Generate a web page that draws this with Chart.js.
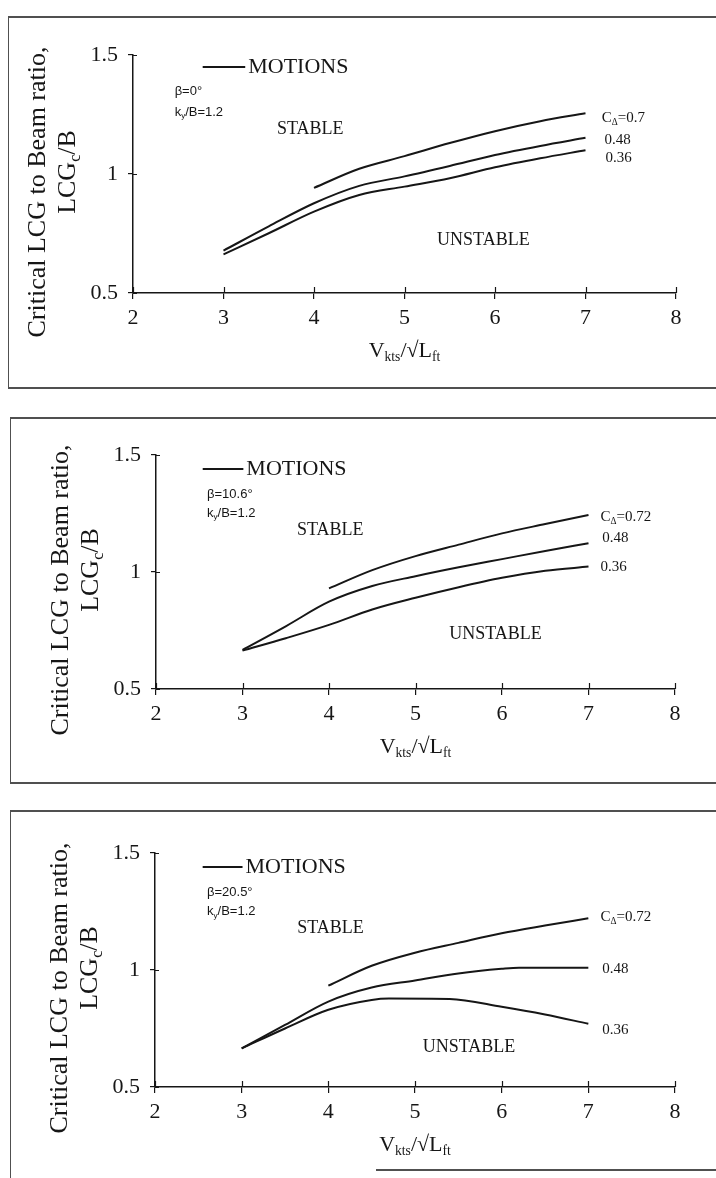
<!DOCTYPE html>
<html>
<head>
<meta charset="utf-8">
<title>Critical LCG to Beam ratio vs speed coefficient</title>
<script src="https://cdn.jsdelivr.net/npm/chart.js@4.4.1/dist/chart.umd.min.js"></script>
<style>
  html, body { margin: 0; padding: 0; background: #fff; }
  #page { position: relative; width: 716px; height: 1178px; overflow: hidden; background: #fff; }
  #page canvas { position: absolute; left: 0; }
  .rule { position: absolute; background: #505050; }
</style>
</head>
<body>
<div id="page">
  <canvas id="panel1"></canvas>
  <canvas id="panel2"></canvas>
  <canvas id="panel3"></canvas>

  <!-- frame around the first graph -->
  <div class="rule" style="left:8px;top:16px;width:708px;height:1.6px"></div>
  <div class="rule" style="left:8px;top:16px;width:1.4px;height:373px"></div>
  <div class="rule" style="left:8px;top:387px;width:708px;height:1.6px"></div>
  <!-- frame around the second graph -->
  <div class="rule" style="left:10px;top:417px;width:706px;height:1.6px"></div>
  <div class="rule" style="left:10px;top:417px;width:1.4px;height:367px"></div>
  <div class="rule" style="left:10px;top:782px;width:706px;height:1.6px"></div>
  <!-- frame around the third graph -->
  <div class="rule" style="left:10px;top:810px;width:706px;height:1.6px"></div>
  <div class="rule" style="left:10px;top:810px;width:1.4px;height:368px"></div>
  <div class="rule" style="left:376px;top:1169px;width:340px;height:1.6px"></div>
</div>

<script>
// ---------------------------------------------------------------
// Axis ticks
// ---------------------------------------------------------------
const X_TICKS = [2, 3, 4, 5, 6, 7, 8];        // V_kts / sqrt(L_ft)
const Y_TICKS = [0.5, 1, 1.5];                // LCG_c / B

// ---------------------------------------------------------------
// Deadrise 0 deg  (k_y/B = 1.2)
// ---------------------------------------------------------------
const b0Label = "β=0°";
const b0Loads = ["0.7", "0.48", "0.36"];
const b0Speed070 = [4, 4.5, 5, 5.5, 6, 6.5, 7];
const b0Lcg070   = [0.942, 1.022, 1.075, 1.13, 1.18, 1.222, 1.255];
const b0Speed048 = [3, 3.5, 4, 4.5, 5, 5.5, 6, 6.5, 7];
const b0Lcg048   = [0.678, 0.78, 0.877, 0.95, 0.99, 1.034, 1.08, 1.118, 1.152];
const b0Speed036 = [3, 3.5, 4, 4.5, 5, 5.5, 6, 6.5, 7];
const b0Lcg036   = [0.662, 0.751, 0.842, 0.912, 0.947, 0.982, 1.028, 1.066, 1.10];

// ---------------------------------------------------------------
// Deadrise 10.6 deg
// ---------------------------------------------------------------
const b10Label = "β=10.6°";
const b10Loads = ["0.72", "0.48", "0.36"];
const b10Speed072 = [4, 4.5, 5, 5.5, 6, 6.5, 7];
const b10Lcg072   = [0.930, 1.008, 1.068, 1.117, 1.165, 1.205, 1.244];
const b10Speed048 = [3, 3.5, 4, 4.5, 5, 5.5, 6, 6.5, 7];
const b10Lcg048   = [0.667, 0.768, 0.873, 0.94, 0.982, 1.02, 1.055, 1.09, 1.123];
const b10Speed036 = [3, 3.5, 4, 4.5, 5, 5.5, 6, 6.5, 7];
const b10Lcg036   = [0.664, 0.717, 0.774, 0.84, 0.89, 0.935, 0.975, 1.005, 1.023];

// ---------------------------------------------------------------
// Deadrise 20.5 deg
// ---------------------------------------------------------------
const b20Label = "β=20.5°";
const b20Loads = ["0.72", "0.48", "0.36"];
const b20Speed072 = [4, 4.5, 5, 5.5, 6, 6.5, 7];
const b20Lcg072   = [0.933, 1.018, 1.074, 1.116, 1.157, 1.19, 1.221];
const b20Speed048 = [3, 3.5, 4, 4.5, 5, 5.5, 6, 6.2, 7];
const b20Lcg048   = [0.665, 0.765, 0.865, 0.925, 0.955, 0.985, 1.005, 1.01, 1.01];
const b20Speed036 = [3, 3.5, 4, 4.5, 4.7, 5.4, 6, 6.5, 7];
const b20Lcg036   = [0.665, 0.75, 0.83, 0.872, 0.878, 0.876, 0.843, 0.81, 0.77];

const inertiaLabel = "1.2";   // k_y / B

// ---------------------------------------------------------------
// Drawing helpers
// ---------------------------------------------------------------
const INK = "#161616";
const SERIF = "'Liberation Serif', 'Times New Roman', serif";
const SANS = "'Liberation Sans', Arial, sans-serif";
const PAGE_W = 716;

function pairs(xs, ys) {
  return xs.map((v, i) => ({ x: v, y: ys[i] }));
}

// Text made of normal and subscript runs, vertically centred on y.
function richWidth(ctx, runs, size, family) {
  let w = 0;
  for (const r of runs) {
    ctx.font = (r.sub ? size * 0.62 : size) + "px " + family;
    w += ctx.measureText(r.t).width;
  }
  return w;
}
function drawRich(ctx, runs, x, y, size, family, align) {
  let cx = align === "center" ? x - richWidth(ctx, runs, size, family) / 2 : x;
  ctx.textAlign = "left";
  ctx.textBaseline = "middle";
  for (const r of runs) {
    const s = r.sub ? size * 0.62 : size;
    ctx.font = s + "px " + family;
    ctx.fillText(r.t, cx, r.sub ? y + size * 0.3 : y);
    cx += ctx.measureText(r.t).width;
  }
}

// Axis titles, the inner half of each crossing tick, and the in-plot notes.
function notesPlugin(spec) {
  return {
    id: "panelNotes",
    afterDraw(chart) {
      const { ctx, chartArea: a, scales } = chart;
      const xs = scales.x, ys = scales.y;
      const px = v => xs.getPixelForValue(v);
      const py = v => ys.getPixelForValue(v);
      ctx.save();
      ctx.fillStyle = INK;
      ctx.strokeStyle = INK;

      // tick marks cross the axis lines
      ctx.lineWidth = 1.2;
      ctx.beginPath();
      for (const t of xs.ticks) {
        const x = Math.round(px(t.value)) + 0.5;
        ctx.moveTo(x, a.bottom);
        ctx.lineTo(x, a.bottom - 6);
      }
      for (const t of ys.ticks) {
        const y = Math.round(py(t.value)) + 0.5;
        ctx.moveTo(a.left, y);
        ctx.lineTo(a.left + 4, y);
      }
      ctx.stroke();

      // y-axis title, two rotated lines
      const midY = (a.top + a.bottom) / 2;
      ctx.save();
      ctx.translate(a.left - 95, midY + 18);
      ctx.rotate(-Math.PI / 2);
      drawRich(ctx, [{ t: "Critical LCG to Beam ratio," }], 0, 0, 26, SERIF, "center");
      ctx.restore();
      ctx.save();
      ctx.translate(a.left - 65, midY - 2);
      ctx.rotate(-Math.PI / 2);
      drawRich(ctx, [{ t: "LCG" }, { t: "c", sub: true }, { t: "/B" }], 0, 0, 26, SERIF, "center");
      ctx.restore();

      // x-axis title
      drawRich(ctx, [{ t: "V" }, { t: "kts", sub: true }, { t: "/√L" }, { t: "ft", sub: true }],
        (a.left + a.right) / 2, a.bottom + 58, 22, SERIF, "center");

      const n = spec.notes;
      // legend entry
      ctx.lineWidth = 2;
      ctx.beginPath();
      ctx.moveTo(px(n.legend.x0), py(n.legend.y));
      ctx.lineTo(px(n.legend.x1), py(n.legend.y));
      ctx.stroke();
      drawRich(ctx, [{ t: "MOTIONS" }], px(n.legend.x1) + 3, py(n.legend.y), 22, SERIF, "left");

      // case description
      drawRich(ctx, [{ t: spec.angle }], px(n.beta.x), py(n.beta.y), 13, SANS, "left");
      drawRich(ctx, [{ t: "k" }, { t: "y", sub: true }, { t: "/B=" + inertiaLabel }],
        px(n.ky.x), py(n.ky.y), 13, SANS, "left");

      // regions
      drawRich(ctx, [{ t: "STABLE" }], px(n.stable.x), py(n.stable.y), 18, SERIF, "left");
      drawRich(ctx, [{ t: "UNSTABLE" }], px(n.unstable.x), py(n.unstable.y), 18, SERIF, "left");

      // load coefficient next to each curve
      spec.loads.forEach((load, i) => {
        const pos = n.curves[i];
        const runs = i === 0
          ? [{ t: "C" }, { t: "Δ", sub: true }, { t: "=" + load }]
          : [{ t: load }];
        drawRich(ctx, runs, px(pos.x), py(pos.y), 15, SERIF, "left");
      });
      ctx.restore();
    }
  };
}

function buildPanel(spec) {
  const canvas = document.getElementById(spec.id);
  canvas.width = PAGE_W;
  canvas.height = spec.height;
  canvas.style.width = PAGE_W + "px";
  canvas.style.height = spec.height + "px";
  canvas.style.top = spec.top + "px";
  const a = spec.area;

  const line = data => ({
    data,
    borderColor: INK,
    borderWidth: 2,
    pointRadius: 0,
    fill: false,
    cubicInterpolationMode: "monotone"
  });

  const tickFont = { family: SERIF, size: 22 };

  return new Chart(canvas, {
    type: "line",
    data: { datasets: spec.series.map(s => line(pairs(s[0], s[1]))) },
    options: {
      responsive: false,
      animation: false,
      devicePixelRatio: 1,
      layout: { padding: { top: a.top, right: PAGE_W - a.right, bottom: 0, left: 0 } },
      plugins: { legend: { display: false }, tooltip: { enabled: false } },
      scales: {
        x: {
          type: "linear",
          min: X_TICKS[0],
          max: X_TICKS[X_TICKS.length - 1],
          afterBuildTicks: s => { s.ticks = X_TICKS.map(v => ({ value: v })); },
          afterFit: s => { s.height = spec.height - a.bottom; },
          border: { display: true, color: INK, width: 1.5 },
          grid: { drawOnChartArea: false, drawTicks: true, tickLength: 6, color: INK, lineWidth: 1.2 },
          ticks: { color: INK, font: tickFont, padding: 6, maxRotation: 0, autoSkip: false,
                   callback: v => String(v) }
        },
        y: {
          type: "linear",
          min: Y_TICKS[0],
          max: Y_TICKS[Y_TICKS.length - 1],
          afterBuildTicks: s => { s.ticks = Y_TICKS.map(v => ({ value: v })); },
          afterFit: s => { s.width = a.left; },
          border: { display: true, color: INK, width: 1.5 },
          grid: { drawOnChartArea: false, drawTicks: true, tickLength: 5, color: INK, lineWidth: 1.2 },
          ticks: { color: INK, font: tickFont, padding: 10, autoSkip: false,
                   callback: v => String(v) }
        }
      }
    },
    plugins: [notesPlugin(spec)]
  });
}

buildPanel({
  id: "panel1", top: 0, height: 395,
  area: { left: 133, right: 676, top: 55, bottom: 293 },
  angle: b0Label, loads: b0Loads,
  series: [[b0Speed070, b0Lcg070], [b0Speed048, b0Lcg048], [b0Speed036, b0Lcg036]],
  notes: {
    legend: { x0: 2.77, x1: 3.24, y: 1.45 },
    beta: { x: 2.46, y: 1.345 }, ky: { x: 2.46, y: 1.26 },
    stable: { x: 3.59, y: 1.19 }, unstable: { x: 5.36, y: 0.72 },
    curves: [{ x: 7.18, y: 1.235 }, { x: 7.21, y: 1.143 }, { x: 7.22, y: 1.067 }]
  }
});

buildPanel({
  id: "panel2", top: 400, height: 395,
  area: { left: 156, right: 675, top: 55, bottom: 289 },
  angle: b10Label, loads: b10Loads,
  series: [[b10Speed072, b10Lcg072], [b10Speed048, b10Lcg048], [b10Speed036, b10Lcg036]],
  notes: {
    legend: { x0: 2.54, x1: 3.01, y: 1.44 },
    beta: { x: 2.59, y: 1.33 }, ky: { x: 2.59, y: 1.252 },
    stable: { x: 3.63, y: 1.18 }, unstable: { x: 5.39, y: 0.735 },
    curves: [{ x: 7.14, y: 1.235 }, { x: 7.16, y: 1.145 }, { x: 7.14, y: 1.021 }]
  }
});

buildPanel({
  id: "panel3", top: 795, height: 383,
  area: { left: 155, right: 675, top: 58, bottom: 292 },
  angle: b20Label, loads: b20Loads,
  series: [[b20Speed072, b20Lcg072], [b20Speed048, b20Lcg048], [b20Speed036, b20Lcg036]],
  notes: {
    legend: { x0: 2.55, x1: 3.01, y: 1.44 },
    beta: { x: 2.6, y: 1.33 }, ky: { x: 2.6, y: 1.25 },
    stable: { x: 3.64, y: 1.18 }, unstable: { x: 5.09, y: 0.67 },
    curves: [{ x: 7.14, y: 1.228 }, { x: 7.16, y: 1.006 }, { x: 7.16, y: 0.745 }]
  }
});
</script>
</body>
</html>
